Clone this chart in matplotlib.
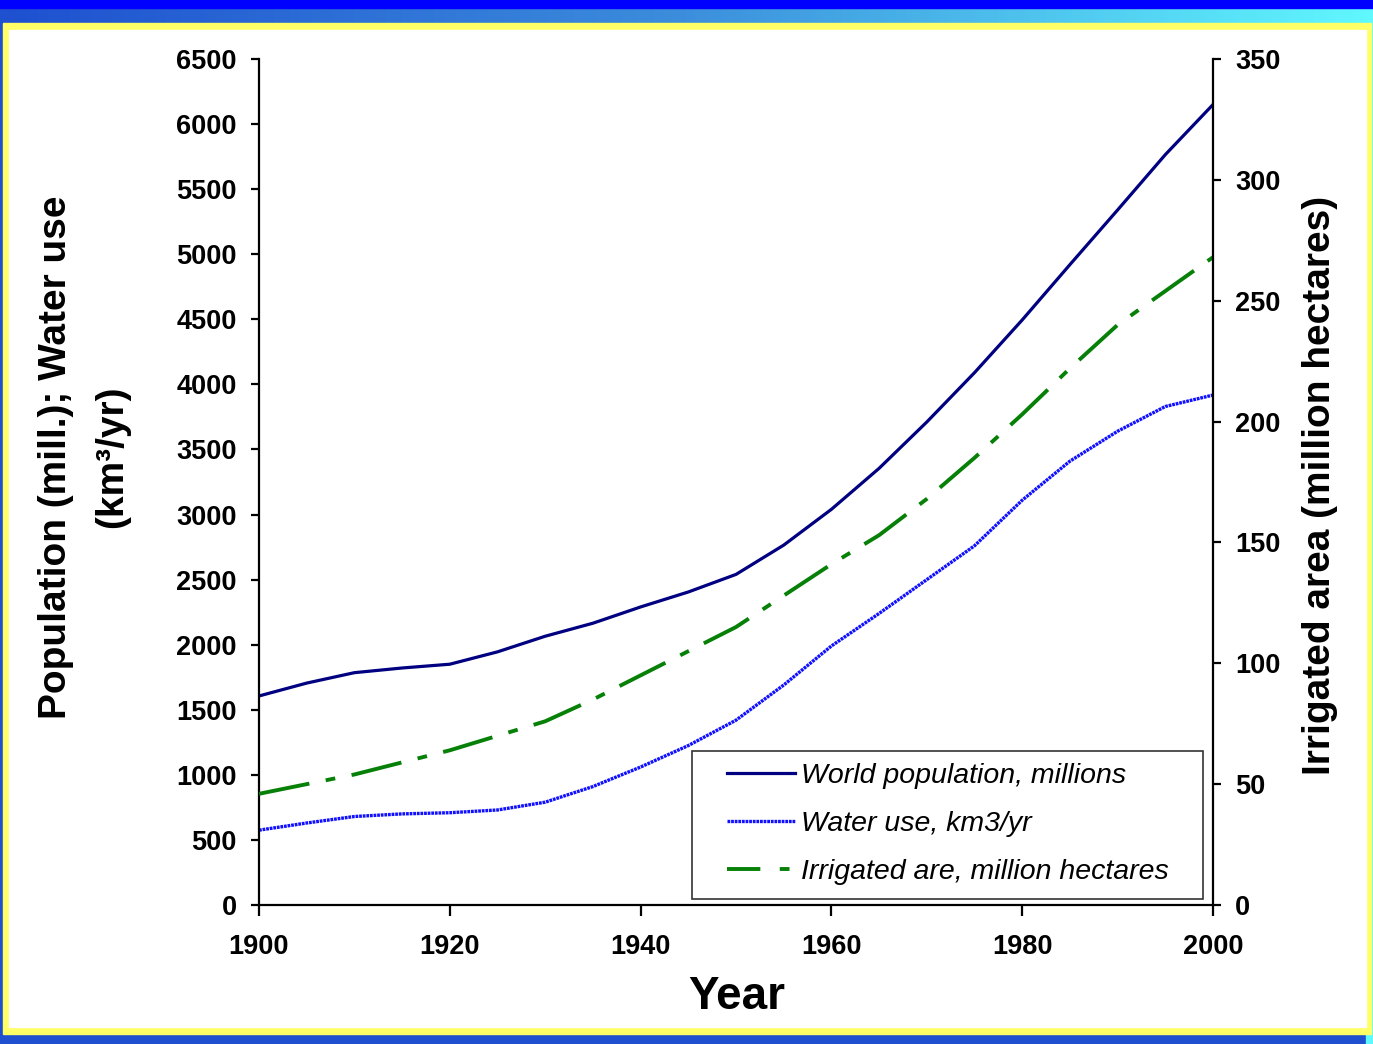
import numpy as np
import matplotlib
matplotlib.use("Agg")
import matplotlib.pyplot as plt
from matplotlib.lines import Line2D
from matplotlib.patches import Rectangle
from matplotlib.colors import LinearSegmentedColormap

plt.rcParams['font.family'] = ['Liberation Sans', 'DejaVu Sans']
plt.rcParams['lines.scale_dashes'] = False

years = [1900, 1905, 1910, 1915, 1920, 1925, 1930, 1935, 1940, 1945, 1950,
         1955, 1960, 1965, 1970, 1975, 1980, 1985, 1990, 1995, 2000]
population = [1606, 1705, 1785, 1821, 1850, 1945, 2065, 2165, 2290, 2405, 2540,
              2765, 3040, 3355, 3711, 4090, 4495, 4920, 5340, 5765, 6150]
water_use = [575, 630, 680, 700, 709, 730, 790, 910, 1060, 1225, 1420,
             1690, 1990, 2240, 2500, 2760, 3110, 3410, 3640, 3830, 3918]
irrigated = [46, 50, 54, 59, 64, 70, 76, 85, 95, 105, 115,
             128, 141, 153, 168, 185, 203, 222, 240, 254, 268]

left_ticks = list(range(0, 6501, 500))
right_ticks = list(range(0, 351, 50))
x_ticks = [1900, 1920, 1940, 1960, 1980, 2000]

W, H = 1373, 1044
fig = plt.figure(figsize=(W / 100, H / 100), dpi=100)
fig.patch.set_facecolor('#1E50D0')

# background decoration
bg = fig.add_axes([0, 0, 1, 1], zorder=-10)
bg.set_xlim(0, W)
bg.set_ylim(H, 0)
bg.axis('off')
grad = np.linspace(0, 1, 256)[None, :]
cmap = LinearSegmentedColormap.from_list('g', ['#1E50D0', '#3C8EDC', '#60F8FF'])
bg.imshow(grad, cmap=cmap, extent=[0, W, 24, 8], aspect='auto', zorder=0)
bg.add_patch(Rectangle((0, 0), W, 8, color='#0000FF', zorder=1))
bg.add_patch(Rectangle((1366, 8), 7, 1036, color='#60F8FF', zorder=0.5))
bg.add_patch(Rectangle((3, 23), 1368, 1011, color='#FFFF66', zorder=2))
bg.add_patch(Rectangle((9, 30), 1357, 997, color='white', zorder=3))
# legend frame
bg.add_patch(Rectangle((692, 751), 1203 - 692, 899 - 751, facecolor='white',
                       edgecolor='#333333', lw=1.2, zorder=4))

ax = fig.add_axes([259 / W, 1 - 905 / H, (1213 - 259) / W, (905 - 59) / H])
ax.set_facecolor('none')
ax2 = ax.twinx()

pop_style = dict(color='#000080', lw=2.3)
water_style = dict(color='#1010FF', lw=2.4, linestyle=(0, (2, 0.6)))
irr_style = dict(color='#078007', lw=2.8, linestyle=(0, (37, 12, 7, 12)))

ax.plot(years, population, **pop_style)
ax.plot(years, water_use, **water_style)
ax2.plot(years, irrigated, **irr_style)

ax.set_xlim(1900, 2000)
ax.set_ylim(0, 6500)
ax2.set_ylim(0, 350)
ax.set_xticks(x_ticks)
ax.set_yticks(left_ticks)
ax2.set_yticks(right_ticks)

for a in (ax, ax2):
    for s in a.spines.values():
        s.set_linewidth(1.6)
        s.set_color('black')
    a.spines['top'].set_visible(False)
ax.spines['right'].set_visible(False)
ax2.spines['left'].set_visible(False)
ax2.spines['bottom'].set_visible(False)

ax.tick_params(axis='y', direction='out', length=6, width=1.6, pad=10)
ax.tick_params(axis='x', direction='out', length=8, width=1.6, pad=13)
ax2.tick_params(axis='y', direction='out', length=6, width=1.6, pad=10)
for lab in ax.get_xticklabels() + ax.get_yticklabels() + ax2.get_yticklabels():
    lab.set_fontsize(19.5)
    lab.set_fontweight('bold')

fig.text(737 / W, 1 - 997 / H, 'Year', fontsize=33, fontweight='bold',
         ha='center', va='center')
fig.text(56 / W, 1 - 457 / H, 'Population (mill.); Water use', fontsize=28,
         fontweight='bold', rotation=90, ha='center', va='center')
fig.text(112 / W, 1 - 457 / H, '(km\u00b3/yr)', fontsize=28,
         fontweight='bold', rotation=90, ha='center', va='center')
fig.text(1320 / W, 1 - 485 / H, 'Irrigated area (million hectares)', fontsize=28,
         fontweight='bold', rotation=90, ha='center', va='center')

h1 = Line2D([], [], **pop_style)
h2 = Line2D([], [], **water_style)
h3 = Line2D([], [], color='#078007', lw=2.8, linestyle=(0, (24, 14, 7, 40)))
leg = ax2.legend([h1, h2, h3],
                 ['World population, millions', 'Water use, km3/yr',
                  'Irrigated are, million hectares'],
                 loc='upper left',
                 bbox_to_anchor=(727 / W, 1 - 763 / H),
                 bbox_transform=fig.transFigure,
                 prop=dict(size=20.5, style='italic'), frameon=False,
                 handlelength=2.4, handletextpad=0.2,
                 labelspacing=0.77, borderaxespad=0, borderpad=0)

fig.savefig('out.png', dpi=100, facecolor=fig.get_facecolor())
